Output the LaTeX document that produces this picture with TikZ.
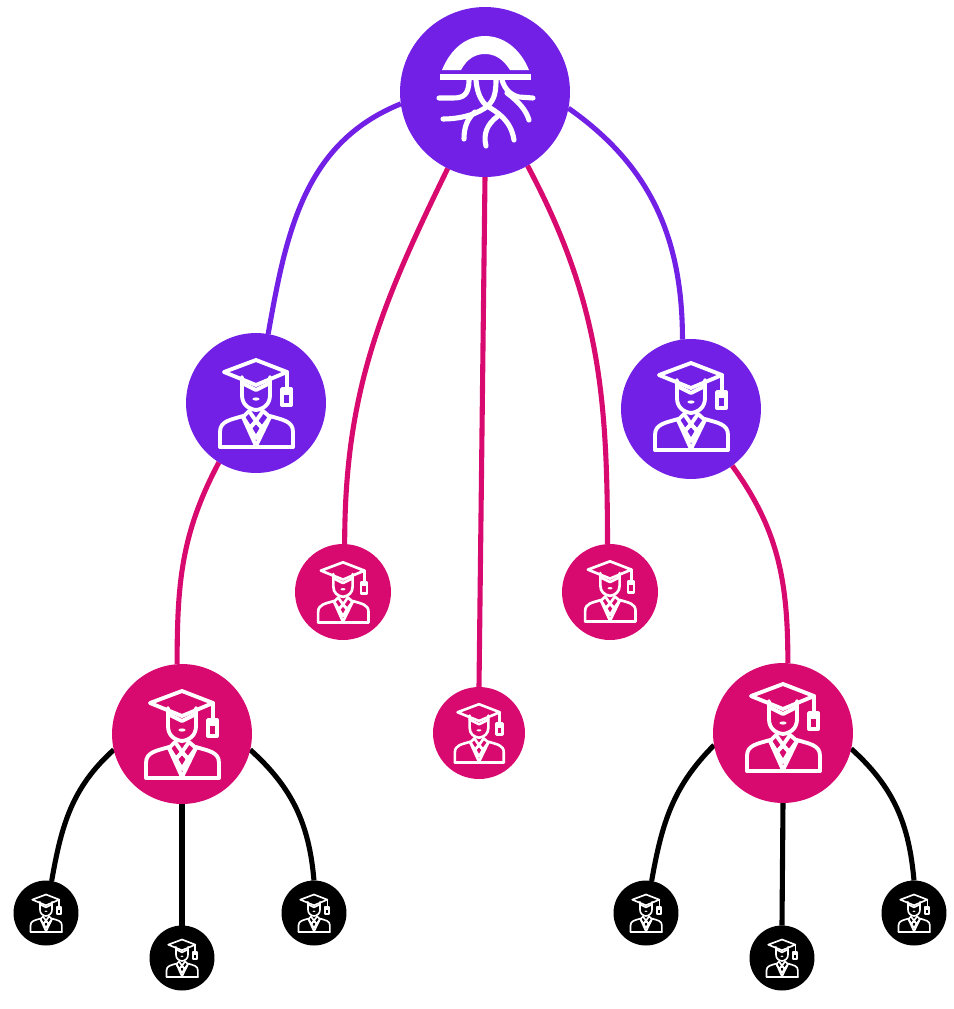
\documentclass[tikz,border=0pt]{standalone}
\usetikzlibrary{backgrounds}
\definecolor{gradpurple}{HTML}{721FE6}
\definecolor{gradpink}{HTML}{D80A70}
\tikzset{
  dot/.style={circle, inner sep=0pt, outer sep=0pt},
  link/.style={line width=2.9pt},
  iconline/.style={draw=white, line join=round, line cap=round},
  gradicon/.pic={
    \draw[iconline] (-32,-31) -- (0,-43) -- (31,-31) -- (0,-18) -- cycle;
    \draw[iconline] (31,-31) -- (31,-16);
    \draw[iconline] (26,-14) rectangle (35,2);
    \fill[white] (26,-14) rectangle (35,-8);
    \draw[iconline] (-14,-26) -- (-14,-8) .. controls (-14,1) and (-8,6) .. (0,7)
      .. controls (8,6) and (14,1) .. (14,-8) -- (14,-26);
    \draw[iconline] (-14,-20) -- (0,-13) -- (14,-20);
    \fill[white] (0,-4) ellipse (3.6 and 1.6);
    \draw[iconline] (-36,44) -- (37,44);
    \draw[iconline] (-36,44) -- (-36,29) .. controls (-36,18) and (-26,17) .. (-13,13);
    \draw[iconline] (37,44) -- (37,29) .. controls (37,18) and (27,17) .. (14,13);
    \draw[iconline] (-13,14) -- (0,43) -- (14,14);
    \draw[iconline] (-13,14) -- (-7,8) -- (0,18) -- (-6,25) -- cycle;
    \draw[iconline] (14,14) -- (7,8) -- (0,18) -- (6,25) -- cycle;
    \draw[iconline] (0,18) -- (6,25) -- (0,35) -- (-6,25) -- cycle;
  }
}

\begin{document}
\begin{tikzpicture}[x=0.02cm, y=-0.02cm]
  \useasboundingbox (0,0) rectangle (954,1009);

  % circles with student icons
  \foreach \n/\x/\y/\r/\s/\c/\d in {
    gradL/256/403/70/1/gradpurple/0, gradR/691/409/70/1/gradpurple/-3,
    midL/343/592/48/0.69/gradpink/0, midR/610/592/48/0.69/gradpink/-1, midC/479/733/46/0.67/gradpink/0,
    leadL/182/734/70/1/gradpink/0, leadR/783/733/70/1/gradpink/-6,
    tipA/46/913/32.5/0.43/black/0, tipB/182/958/32.5/0.43/black/0, tipC/314/913/32.5/0.43/black/0,
    tipD/646/913/32.5/0.43/black/0, tipE/782/958/32.5/0.43/black/0, tipF/914/913/32.5/0.43/black/0} {
    \node[dot, fill=\c, minimum size=\r*0.04cm] (\n) at (\x,\y) {};
    \pgfmathsetmacro{\lw}{\s*2.2}
    \pic[scale=\s, line width=\lw pt] at (\x,\y+\d) {gradicon};
  }

  % top circle
  \node[dot, fill=gradpurple, minimum size=3.4cm] (hub) at (485,92) {};
  \begin{scope}[shift={(485,92)}, white, line width=2.9pt, line cap=round]
    \fill (-43,-22) .. controls (-34,-44) and (-18,-56) .. (0,-56)
      .. controls (18,-56) and (35,-44) .. (44,-22) -- (25,-22)
      .. controls (18,-33) and (10,-38) .. (0,-38)
      .. controls (-10,-38) and (-18,-33) .. (-24,-22) -- cycle;
    \fill (-45,-18) rectangle (46,-12);
    \draw (-46,6) -- (-32,6) .. controls (-22,6) and (-16,3) .. (-16,-12);
    \draw (-9,-12) .. controls (-8,2) and (-3,10) .. (2,14)
      .. controls (12,20) and (26,28) .. (29,48);
    \draw (-42,27) .. controls (-28,27) and (-12,24) .. (0,16)
      .. controls (8,10) and (11,4) .. (11,-12);
    \draw (-21,47) .. controls (-21,34) and (-17,26) .. (-10,20);
    \draw (48,6) -- (34,5) .. controls (26,3) and (20,-2) .. (17,-12);
    \draw (44,28) .. controls (41,18) and (34,10) .. (22,1);
    \draw (1,54) .. controls (-2,42) and (2,32) .. (13,24);
  \end{scope}

  % connectors
  \begin{scope}[on background layer]
    \draw[link, gradpurple] (hub.188) to[out=202, in=80] (gradL.80);
    \draw[link, gradpurple] (hub.-11) to[out=-35, in=90] (gradR.97);
    \draw[link, gradpink] (hub.244) to[out=244, in=90] (midL.88);
    \draw[link, gradpink] (hub.270) -- (midC.90);
    \draw[link, gradpink] (hub.300) to[out=-62, in=90] (midR.93);
    \draw[link, gradpink] (gradL.238) to[out=242, in=90] (leadL.94);
    \draw[link, gradpink] (gradR.-54) to[out=-54, in=90] (leadR.86);
    \draw[link] (leadL.193) to[out=222, in=80] (tipA.80);
    \draw[link] (leadL.270) -- (tipB.90);
    \draw[link] (leadL.-13) to[out=-42, in=95] (tipC.90);
    \draw[link] (leadR.190) to[out=225, in=80] (tipD.80);
    \draw[link] (leadR.270) -- (tipE.90);
    \draw[link] (leadR.-13) to[out=-42, in=95] (tipF.90);
  \end{scope}
\end{tikzpicture}
\end{document}
